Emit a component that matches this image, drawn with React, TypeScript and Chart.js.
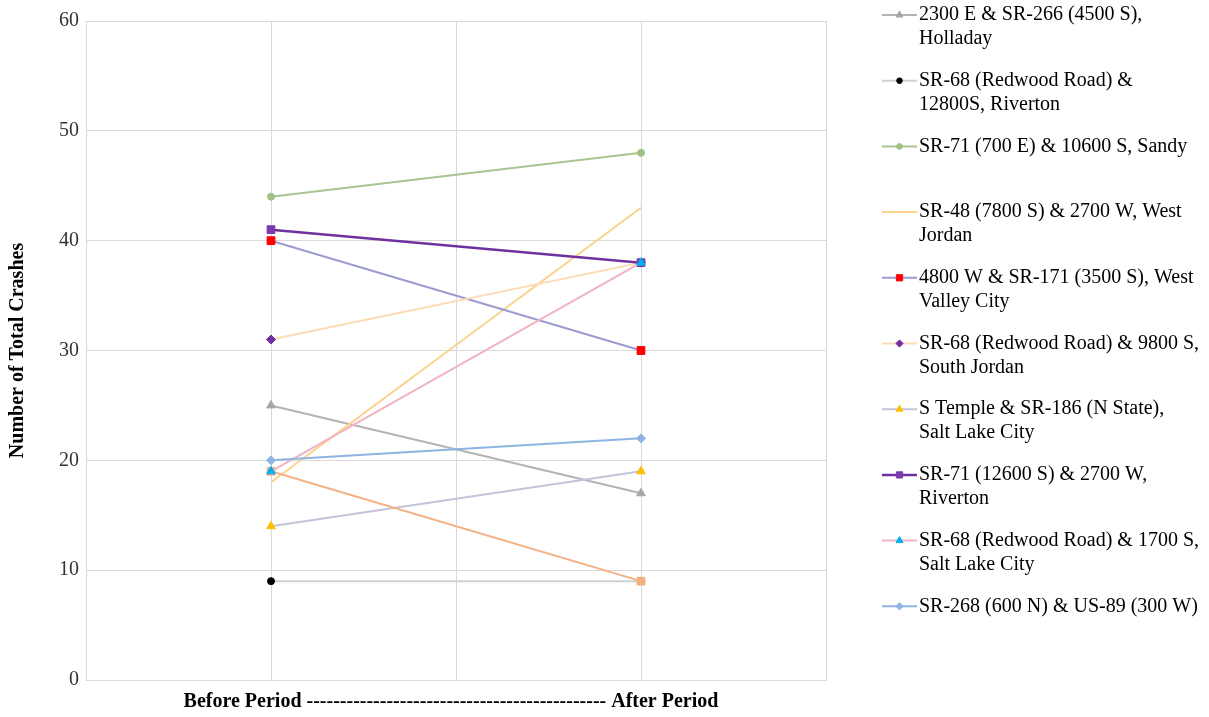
import React, { useEffect, useRef } from "react";
import { Chart, registerables } from "chart.js";

Chart.register(...registerables);

// ---- Data ----
const xLabels = ["", "Before Period", "", "After Period", ""];

const seriesNames = [
  "2300 E & SR-266 (4500 S),\nHolladay",
  "SR-68 (Redwood Road) &\n12800S, Riverton",
  "SR-71 (700 E) & 10600 S, Sandy",
  "SR-48 (7800 S) & 2700 W, West\nJordan",
  "4800 W & SR-171 (3500 S), West\nValley City",
  "SR-68 (Redwood Road) & 9800 S,\nSouth Jordan",
  "S Temple & SR-186 (N State),\nSalt Lake City",
  "SR-71 (12600 S) & 2700 W,\nRiverton",
  "SR-68 (Redwood Road) & 1700 S,\nSalt Lake City",
  "SR-268 (600 N) & US-89 (300 W)",
  "Unlisted intersection",
];

const beforeValues = [25, 9, 44, 18, 40, 31, 14, 41, 19, 20, 19];
const afterValues = [17, 9, 48, 43, 30, 38, 19, 38, 38, 22, 9];

const lineColors = [
  "#b4b4b4",
  "#d0d0d0",
  "#a9c591",
  "#fcd28a",
  "#9b9bd2",
  "#fcdcb4",
  "#c3c3db",
  "#7030a0",
  "#f2b3c1",
  "#8db4e2",
  "#f4b183",
];
const markerColors = [
  "#a6a6a6",
  "#000000",
  "#9fc184",
  "#fcd28a",
  "#ff0000",
  "#7030a0",
  "#ffc000",
  "#7a3aae",
  "#00b0f0",
  "#8db4e2",
  "#f4b183",
];
const markerStyles = [
  "triangle",
  "circle",
  "circle",
  "none",
  "rect",
  "rectRot",
  "triangle",
  "rect",
  "triangle",
  "rectRot",
  "rect",
];
const markerSizes = [5, 3.5, 3.5, 0, 5.5, 4.5, 5, 5.5, 5, 4.5, 5.5];
const lineWidths = [2, 2, 2, 2, 2, 2, 2, 2.5, 2, 2, 2];
const inLegend = [true, true, true, true, true, true, true, true, true, true, false];
// draw order: lower value is drawn on top
const drawOrder = [9, 10, 8, 7, 6, 5, 4, 3, 1, 0, 2];

const yTitle = "Number of Total Crashes";
const xTitle = "Before Period " + "-".repeat(45) + " After Period\u00a0\u00a0";

const FONT = "'Liberation Serif', 'Times New Roman', serif";

function drawMarker(ctx: CanvasRenderingContext2D, style: string, x: number, y: number, r: number, color: string) {
  if (style === "none" || r <= 0) return;
  ctx.save();
  ctx.fillStyle = color;
  ctx.strokeStyle = color;
  ctx.lineWidth = 1;
  ctx.beginPath();
  if (style === "circle") {
    ctx.arc(x, y, r, 0, Math.PI * 2);
  } else if (style === "rect") {
    const s = r * Math.SQRT1_2;
    ctx.rect(x - s, y - s, 2 * s, 2 * s);
  } else if (style === "rectRot") {
    ctx.moveTo(x - r, y);
    ctx.lineTo(x, y - r);
    ctx.lineTo(x + r, y);
    ctx.lineTo(x, y + r);
  } else if (style === "triangle") {
    let rad = 0;
    ctx.moveTo(x + Math.sin(rad) * r, y - Math.cos(rad) * r);
    rad += (2 * Math.PI) / 3;
    ctx.lineTo(x + Math.sin(rad) * r, y - Math.cos(rad) * r);
    rad += (2 * Math.PI) / 3;
    ctx.lineTo(x + Math.sin(rad) * r, y - Math.cos(rad) * r);
  }
  ctx.closePath();
  ctx.fill();
  ctx.stroke();
  ctx.restore();
}

const sideLegend = {
  id: "sideLegend",
  afterDraw(chart: any) {
    const ctx: CanvasRenderingContext2D = chart.ctx;
    const area = chart.chartArea;
    const lineStart = area.right + 56;
    const lineEnd = lineStart + 35;
    const textX = lineEnd + 2;
    const firstY = 15;
    const step = 65.7;
    const lineGap = 24;
    let slot = 0;
    ctx.save();
    ctx.font = `20px ${FONT}`;
    ctx.fillStyle = "#000000";
    ctx.textBaseline = "middle";
    ctx.textAlign = "left";
    seriesNames.forEach((name, i) => {
      if (!inLegend[i]) return;
      const y = firstY + slot * step;
      slot++;
      ctx.save();
      ctx.strokeStyle = lineColors[i];
      ctx.lineWidth = lineWidths[i];
      ctx.beginPath();
      ctx.moveTo(lineStart, y);
      ctx.lineTo(lineEnd, y);
      ctx.stroke();
      ctx.restore();
      drawMarker(ctx, markerStyles[i], (lineStart + lineEnd) / 2, y, markerSizes[i] * 0.8, markerColors[i]);
      name.split("\n").forEach((ln, k) => {
        ctx.fillText(ln, textX, y + k * lineGap);
      });
    });
    ctx.restore();
  },
};

export default function App() {
  const canvasRef = useRef<HTMLCanvasElement | null>(null);

  useEffect(() => {
    if (!canvasRef.current) return;
    const datasets = seriesNames.map((name, i) => ({
      label: name.replace("\n", " "),
      data: [null, beforeValues[i], null, afterValues[i], null],
      spanGaps: true,
      borderColor: lineColors[i],
      backgroundColor: lineColors[i],
      borderWidth: lineWidths[i],
      pointStyle: markerStyles[i] === "none" ? "circle" : markerStyles[i],
      pointRadius: markerSizes[i],
      pointBackgroundColor: markerColors[i],
      pointBorderColor: markerColors[i],
      pointBorderWidth: 1,
      tension: 0,
      fill: false,
      order: drawOrder[i],
    }));

    const chart = new Chart(canvasRef.current, {
      type: "line",
      data: { labels: xLabels, datasets: datasets as any },
      plugins: [sideLegend as any],
      options: {
        responsive: true,
        maintainAspectRatio: false,
        animation: false,
        layout: { padding: { top: 21, right: 383, bottom: 3, left: 0 } },
        plugins: {
          legend: { display: false },
          tooltip: { enabled: false },
        },
        scales: {
          x: {
            type: "category",
            offset: false,
            grid: { color: "#d9d9d9", lineWidth: 1, drawTicks: false },
            border: { color: "#d9d9d9", width: 1 },
            ticks: { display: false },
            title: {
              display: true,
              text: xTitle,
              color: "#000000",
              font: { family: FONT, size: 20, weight: "bold" },
              padding: { top: 10, bottom: 0 },
            },
          },
          y: {
            min: 0,
            max: 60,
            grid: { color: "#d9d9d9", lineWidth: 1, drawTicks: false },
            border: { color: "#d9d9d9", width: 1 },
            ticks: {
              stepSize: 10,
              padding: 7,
              color: "#333333",
              font: { family: FONT, size: 20 },
            },
            title: {
              display: true,
              text: yTitle,
              color: "#000000",
              font: { family: FONT, size: 20, weight: "bold" },
              padding: { top: 6, bottom: 22 },
            },
          },
        },
      },
    });
    return () => chart.destroy();
  }, []);

  return (
    <div style={{ position: "absolute", left: 0, top: 0, width: 1209, height: 717, background: "#ffffff" }}>
      <canvas ref={canvasRef} />
    </div>
  );
}
